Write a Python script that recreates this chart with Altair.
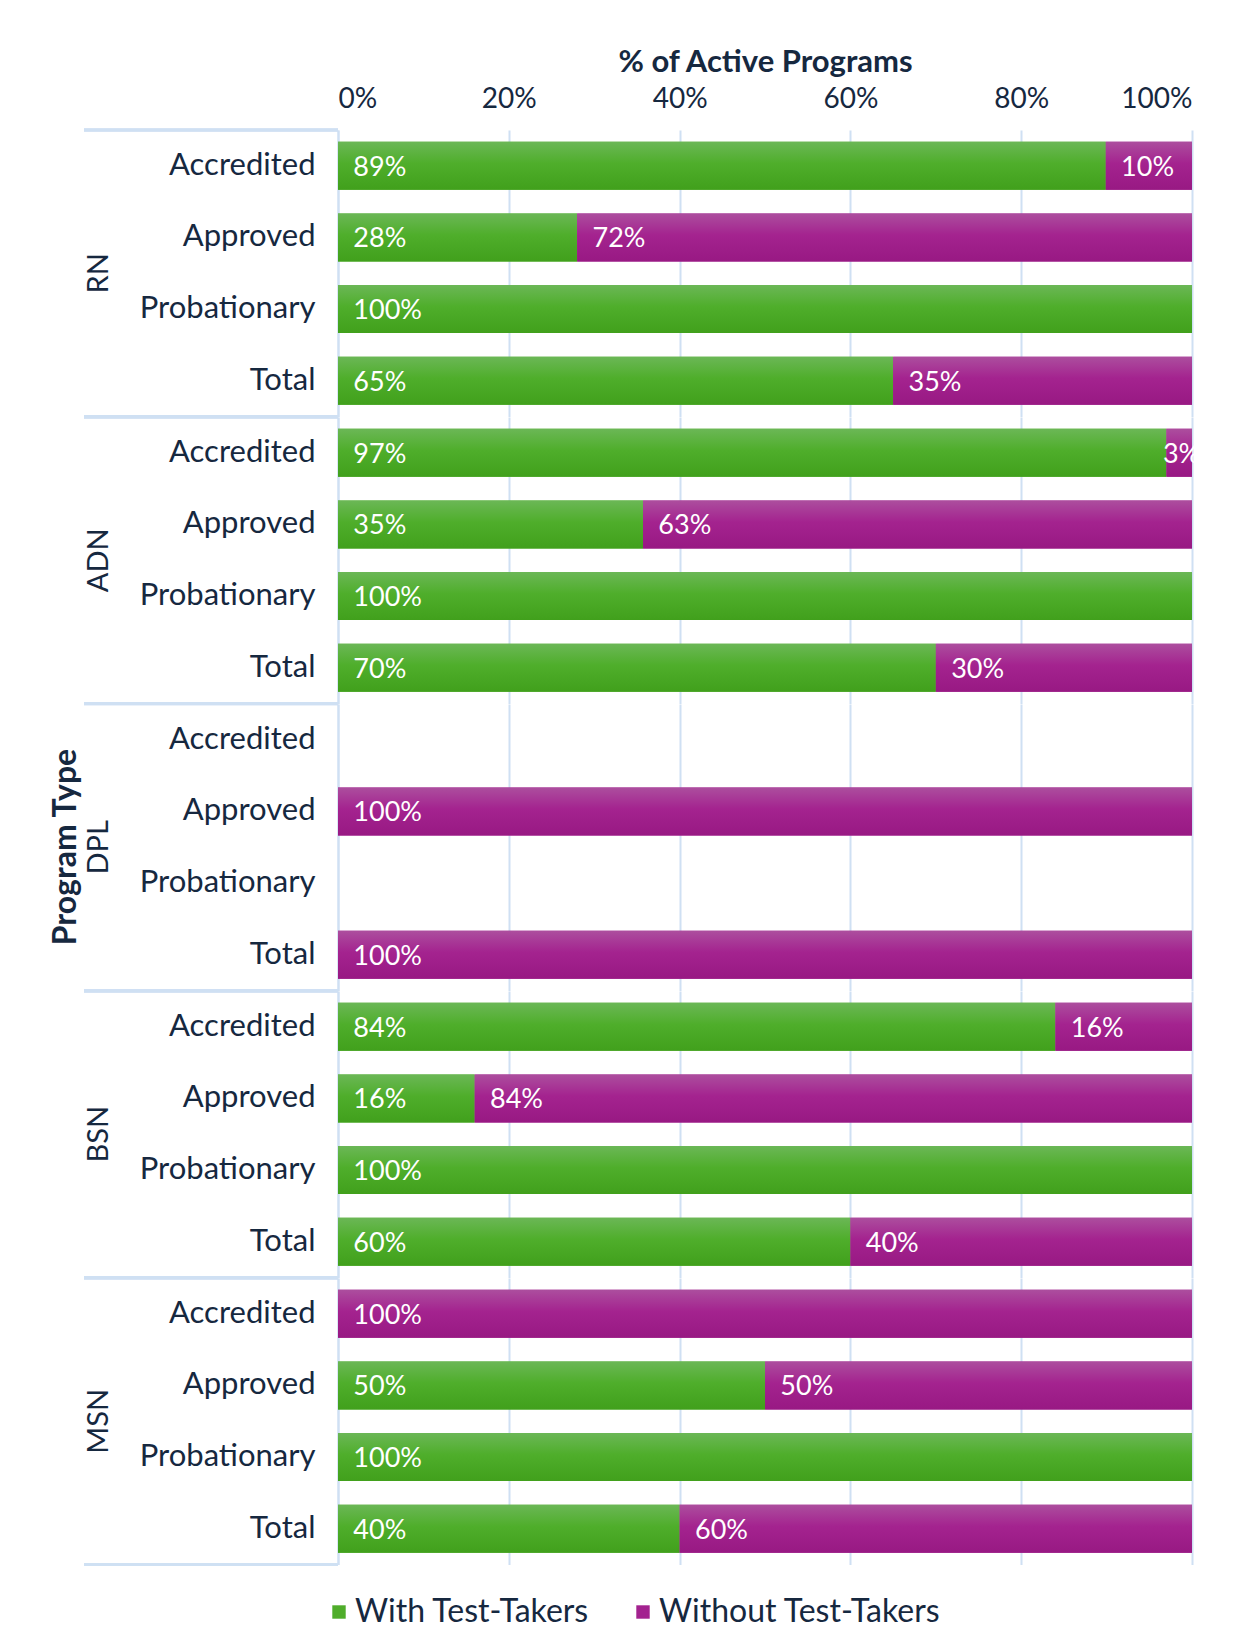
import altair as alt
import pandas as pd

groups = ["RN", "ADN", "DPL", "BSN", "MSN"]
categories = ["Accredited", "Approved", "Probationary", "Total"]
series = ["With Test-Takers", "Without Test-Takers"]

with_vals = [89, 28, 100, 65,
             97, 35, 100, 70,
             None, 0, None, 0,
             84, 16, 100, 60,
             0, 50, 100, 40]
without_vals = [10, 72, 0, 35,
                3, 63, 0, 30,
                None, 100, None, 100,
                16, 84, 0, 40,
                100, 50, 0, 60]

rows = []
i = 0
for g in groups:
    for c in categories:
        for k, vals in enumerate([with_vals, without_vals]):
            v = vals[i]
            if v is not None and v > 0:
                rows.append({"group": g, "cat": c, "series": series[k], "ord": k, "value": v})
        i += 1
df = pd.DataFrame(rows)

FONT = "Lato"
NAVY = "#16283f"
GRID = "#cfe0f3"
GREEN = "#4fad2b"
PURPLE = "#a3228f"

green_grad = {"gradient": "linear", "x1": 0, "y1": 0, "x2": 0, "y2": 1,
              "stops": [{"offset": 0, "color": "#6bb756"},
                        {"offset": 0.45, "color": "#4fae2b"},
                        {"offset": 1, "color": "#41a01c"}]}
purple_grad = {"gradient": "linear", "x1": 0, "y1": 0, "x2": 0, "y2": 1,
               "stops": [{"offset": 0, "color": "#ac4e9e"},
                         {"offset": 0.45, "color": "#a4238f"},
                         {"offset": 1, "color": "#981983"}]}

W = 854
H = 286.5

yenc = alt.Y("cat:N", sort=categories, title=None,
             scale=alt.Scale(domain=categories, paddingInner=0.33, paddingOuter=0.165),
             axis=alt.Axis(labelFont=FONT, labelFontSize=31, labelColor=NAVY,
                           labelPadding=23, ticks=False, domain=True,
                           domainColor=GRID, domainWidth=2))

xenc = alt.X("v0:Q", title="% of Active Programs",
             scale=alt.Scale(domain=[0, 1], nice=False),
             axis=alt.Axis(orient="top", format="%", values=[0, 0.2, 0.4, 0.6, 0.8, 1.0],
                           labelFont=FONT, labelFontSize=28, labelColor=NAVY,
                           labelPadding=17, ticks=False, domain=False,
                           grid=True, gridColor=GRID, gridWidth=2,
                           titleFont=FONT, titleFontSize=31, titleFontWeight="bold",
                           titleColor=NAVY, titlePadding=7))

base = alt.Chart().transform_joinaggregate(
    total="sum(value)", groupby=["group", "cat"]
).transform_stack(
    stack="value", groupby=["group", "cat"], as_=["v0", "v1"],
    offset="normalize", sort=[alt.SortField("ord", order="ascending")]
)

bars = base.mark_bar().encode(
    x=xenc, x2="v1:Q", y=yenc,
    color=alt.Color("series:N", sort=series,
                    scale=alt.Scale(domain=series, range=[GREEN, PURPLE]),
                    legend=alt.Legend(title=None, orient="none", direction="horizontal",
                                      legendX=-15, legendY=1466,
                                      symbolType="square", symbolSize=180,
                                      symbolStrokeWidth=0, labelLimit=500,
                                      labelFont=FONT, labelFontSize=32, labelColor=NAVY,
                                      labelOffset=0, columnPadding=37)),
)

grad_bars = base.mark_bar().encode(
    x="v0:Q", x2="v1:Q", y="cat:N",
    color=alt.condition("datum.series == 'With Test-Takers'",
                        alt.value(green_grad), alt.value(purple_grad)),
)

labels = base.transform_calculate(
    lx="(datum.v1 - datum.v0) < 0.05 ? datum.v0 - 0.004 : datum.v0 + 0.018",
    lab="datum.value + '%'"
).mark_text(align="left", baseline="middle", font=FONT, fontSize=27,
            color="white", dy=2).encode(
    x="lx:Q", y="cat:N", text="lab:N"
)

sep_top = base.mark_rule(color=GRID, strokeWidth=2.5).encode(
    x=alt.value(-254), x2=alt.value(0), y=alt.value(0)
)
sep_bot = base.mark_rule(color=GRID, strokeWidth=2.5).encode(
    x=alt.value(-254), x2=alt.value(0), y=alt.value(H)
)

layered = alt.layer(bars, grad_bars, labels, sep_top, sep_bot).properties(
    width=W, height=H, data=df)

chart = layered.facet(
    row=alt.Row("group:N", sort=groups,
                header=alt.Header(title="Program Type", titleOrient="left", labelOrient="left",
                                  labelAngle=-90, titleAngle=-90,
                                  labelFont=FONT, labelFontSize=29, labelColor=NAVY,
                                  labelPadding=11,
                                  titleFont=FONT, titleFontSize=32, titleFontWeight="bold",
                                  titleColor=NAVY, titlePadding=-40)),
    spacing=0,
    bounds="flush",
).properties(
    padding={"left": 42, "top": 38, "right": 10, "bottom": 10}
).configure_view(stroke=None)

chart.save("out.html", embed_options={"renderer": "svg", "actions": False})
